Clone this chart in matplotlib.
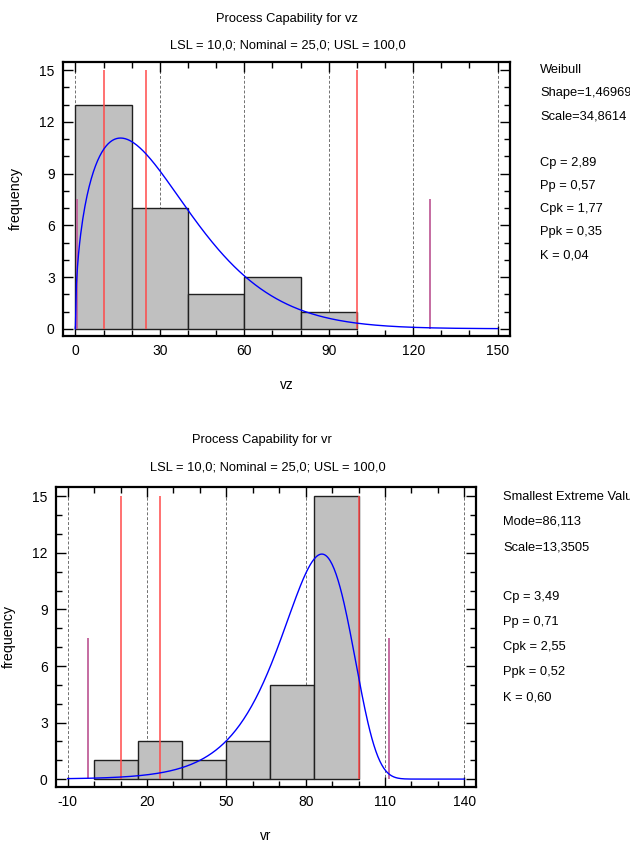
import numpy as np
import matplotlib
matplotlib.use("Agg")
import matplotlib.pyplot as plt
from matplotlib.ticker import MultipleLocator

# ---------------- DATA ---------------- #

LSL, NOMINAL, USL = 10.0, 25.0, 100.0

vz_edges = [0, 20, 40, 60, 80, 100]
vz_counts = [13, 7, 2, 3, 1]
vz_ticks = [0, 30, 60, 90, 120, 150]
vz_shape, vz_scale = 1.46969, 34.8614
vz_limits3s = [0.4, 126.0]
vz_stats = ["Weibull", "Shape=1,46969", "Scale=34,8614", "",
            "Cp = 2,89", "Pp = 0,57", "Cpk = 1,77", "Ppk = 0,35", "K = 0,04"]

vr_edges = [0, 16.667, 33.333, 50, 66.667, 83.333, 100]
vr_counts = [1, 2, 1, 2, 5, 15]
vr_ticks = [-10, 20, 50, 80, 110, 140]
vr_mode, vr_scale = 86.113, 13.3505
vr_limits3s = [-2.2, 111.4]
vr_stats = ["Smallest Extreme Value", "Mode=86,113", "Scale=13,3505", "",
            "Cp = 3,49", "Pp = 0,71", "Cpk = 2,55", "Ppk = 0,52", "K = 0,60"]

# ---------------- STYLE ---------------- #

plt.rcParams["font.family"] = ["Liberation Sans", "DejaVu Sans"]
plt.rcParams["axes.unicode_minus"] = False
FS = 9.3

RED = "#ff4a4a"
PURPLE = "#c0609a"
BAR = "#c0c0c0"
W, H = 630, 843


def weibull_fit(x, n, width):
    z = np.clip(x, 1e-9, None) / vz_scale
    pdf = (vz_shape / vz_scale) * z ** (vz_shape - 1) * np.exp(-z ** vz_shape)
    return pdf * n * width


def sev_fit(x, n, width):
    z = (x - vr_mode) / vr_scale
    pdf = np.exp(z) * np.exp(-np.exp(z)) / vr_scale
    return pdf * n * width


def draw_panel(ax, edges, counts, curve_x, curve_y, xlim, ylim, xticks, limits3s):
    edges = np.array(edges, dtype=float)
    ax.set_xlim(*xlim)
    ax.set_ylim(*ylim)
    for gx in xticks:
        ax.axvline(gx, color="#707070", lw=0.7, ls=(0, (3, 2)), zorder=1)
    ax.bar(edges[:-1], counts, width=np.diff(edges), align="edge",
           color=BAR, edgecolor="#202020", lw=1.0, zorder=2)
    for v in (LSL, NOMINAL, USL):
        ax.vlines(v, 0, 15, color=RED, lw=1.1, zorder=3)
    ax.vlines(limits3s, 0, 7.5, color=PURPLE, lw=1.3, zorder=3)
    ax.plot(curve_x, curve_y, color="#0000ff", lw=1.0, zorder=4)

    ax.set_xticks(xticks)
    ax.set_xticks(np.arange(xticks[0], xticks[-1] + 1, 10), minor=True)
    ax.yaxis.set_major_locator(MultipleLocator(3))
    ax.yaxis.set_minor_locator(MultipleLocator(1))
    ax.tick_params(which="both", direction="in", top=True, right=True,
                   labelsize=FS + 0.7, pad=6)
    ax.tick_params(which="major", length=7, width=1.0)
    ax.tick_params(which="minor", length=4, width=1.0)
    for s in ax.spines.values():
        s.set_linewidth(1.6)
    ax.set_ylabel("frequency", fontsize=FS + 1, labelpad=12)


def stats_text(fig, x_px, y0_px, step, lines):
    for i, t in enumerate(lines):
        if not t:
            continue
        y = y0_px + i * step
        fig.text(x_px / W, 1 - y / H, t, ha="left", va="center", fontsize=FS)


def main():
    fig = plt.figure(figsize=(6.3, 8.43), dpi=100)

    # top panel: vz
    ax1 = fig.add_axes([63 / W, 1 - 336 / H, (510 - 63) / W, (336 - 62) / H])
    x1 = np.linspace(0, 150, 400)
    draw_panel(ax1, vz_edges, vz_counts, x1,
               weibull_fit(x1, sum(vz_counts), vz_edges[1] - vz_edges[0]),
               (-4.4, 154.4), (-0.42, 15.47), vz_ticks, vz_limits3s)
    ax1.set_xlabel("vz", fontsize=FS + 0.5, labelpad=14)
    fig.text(287 / W, 1 - 19 / H, "Process Capability for vz", ha="center", va="center", fontsize=FS)
    fig.text(288 / W, 1 - 45 / H, "LSL = 10,0; Nominal = 25,0; USL = 100,0",
             ha="center", va="center", fontsize=FS)
    stats_text(fig, 540, 70, 23.2, vz_stats)

    # bottom panel: vr
    ax2 = fig.add_axes([56 / W, 1 - 787 / H, (476 - 56) / W, (787 - 487) / H])
    x2 = np.linspace(-10, 140, 400)
    draw_panel(ax2, vr_edges, vr_counts, x2,
               sev_fit(x2, sum(vr_counts), 100 / 6),
               (-14.4, 144.4), (-0.42, 15.5), vr_ticks, vr_limits3s)
    ax2.set_xlabel("vr", fontsize=FS + 0.5, labelpad=14)
    fig.text(262 / W, 1 - 440 / H, "Process Capability for vr", ha="center", va="center", fontsize=FS)
    fig.text(268 / W, 1 - 468 / H, "LSL = 10,0; Nominal = 25,0; USL = 100,0",
             ha="center", va="center", fontsize=FS)
    # the reference cuts this first line at the right edge as well
    stats_text(fig, 503, 497, 25, vr_stats)

    fig.savefig("out.png", dpi=100, facecolor="white")


if __name__ == "__main__":
    main()
